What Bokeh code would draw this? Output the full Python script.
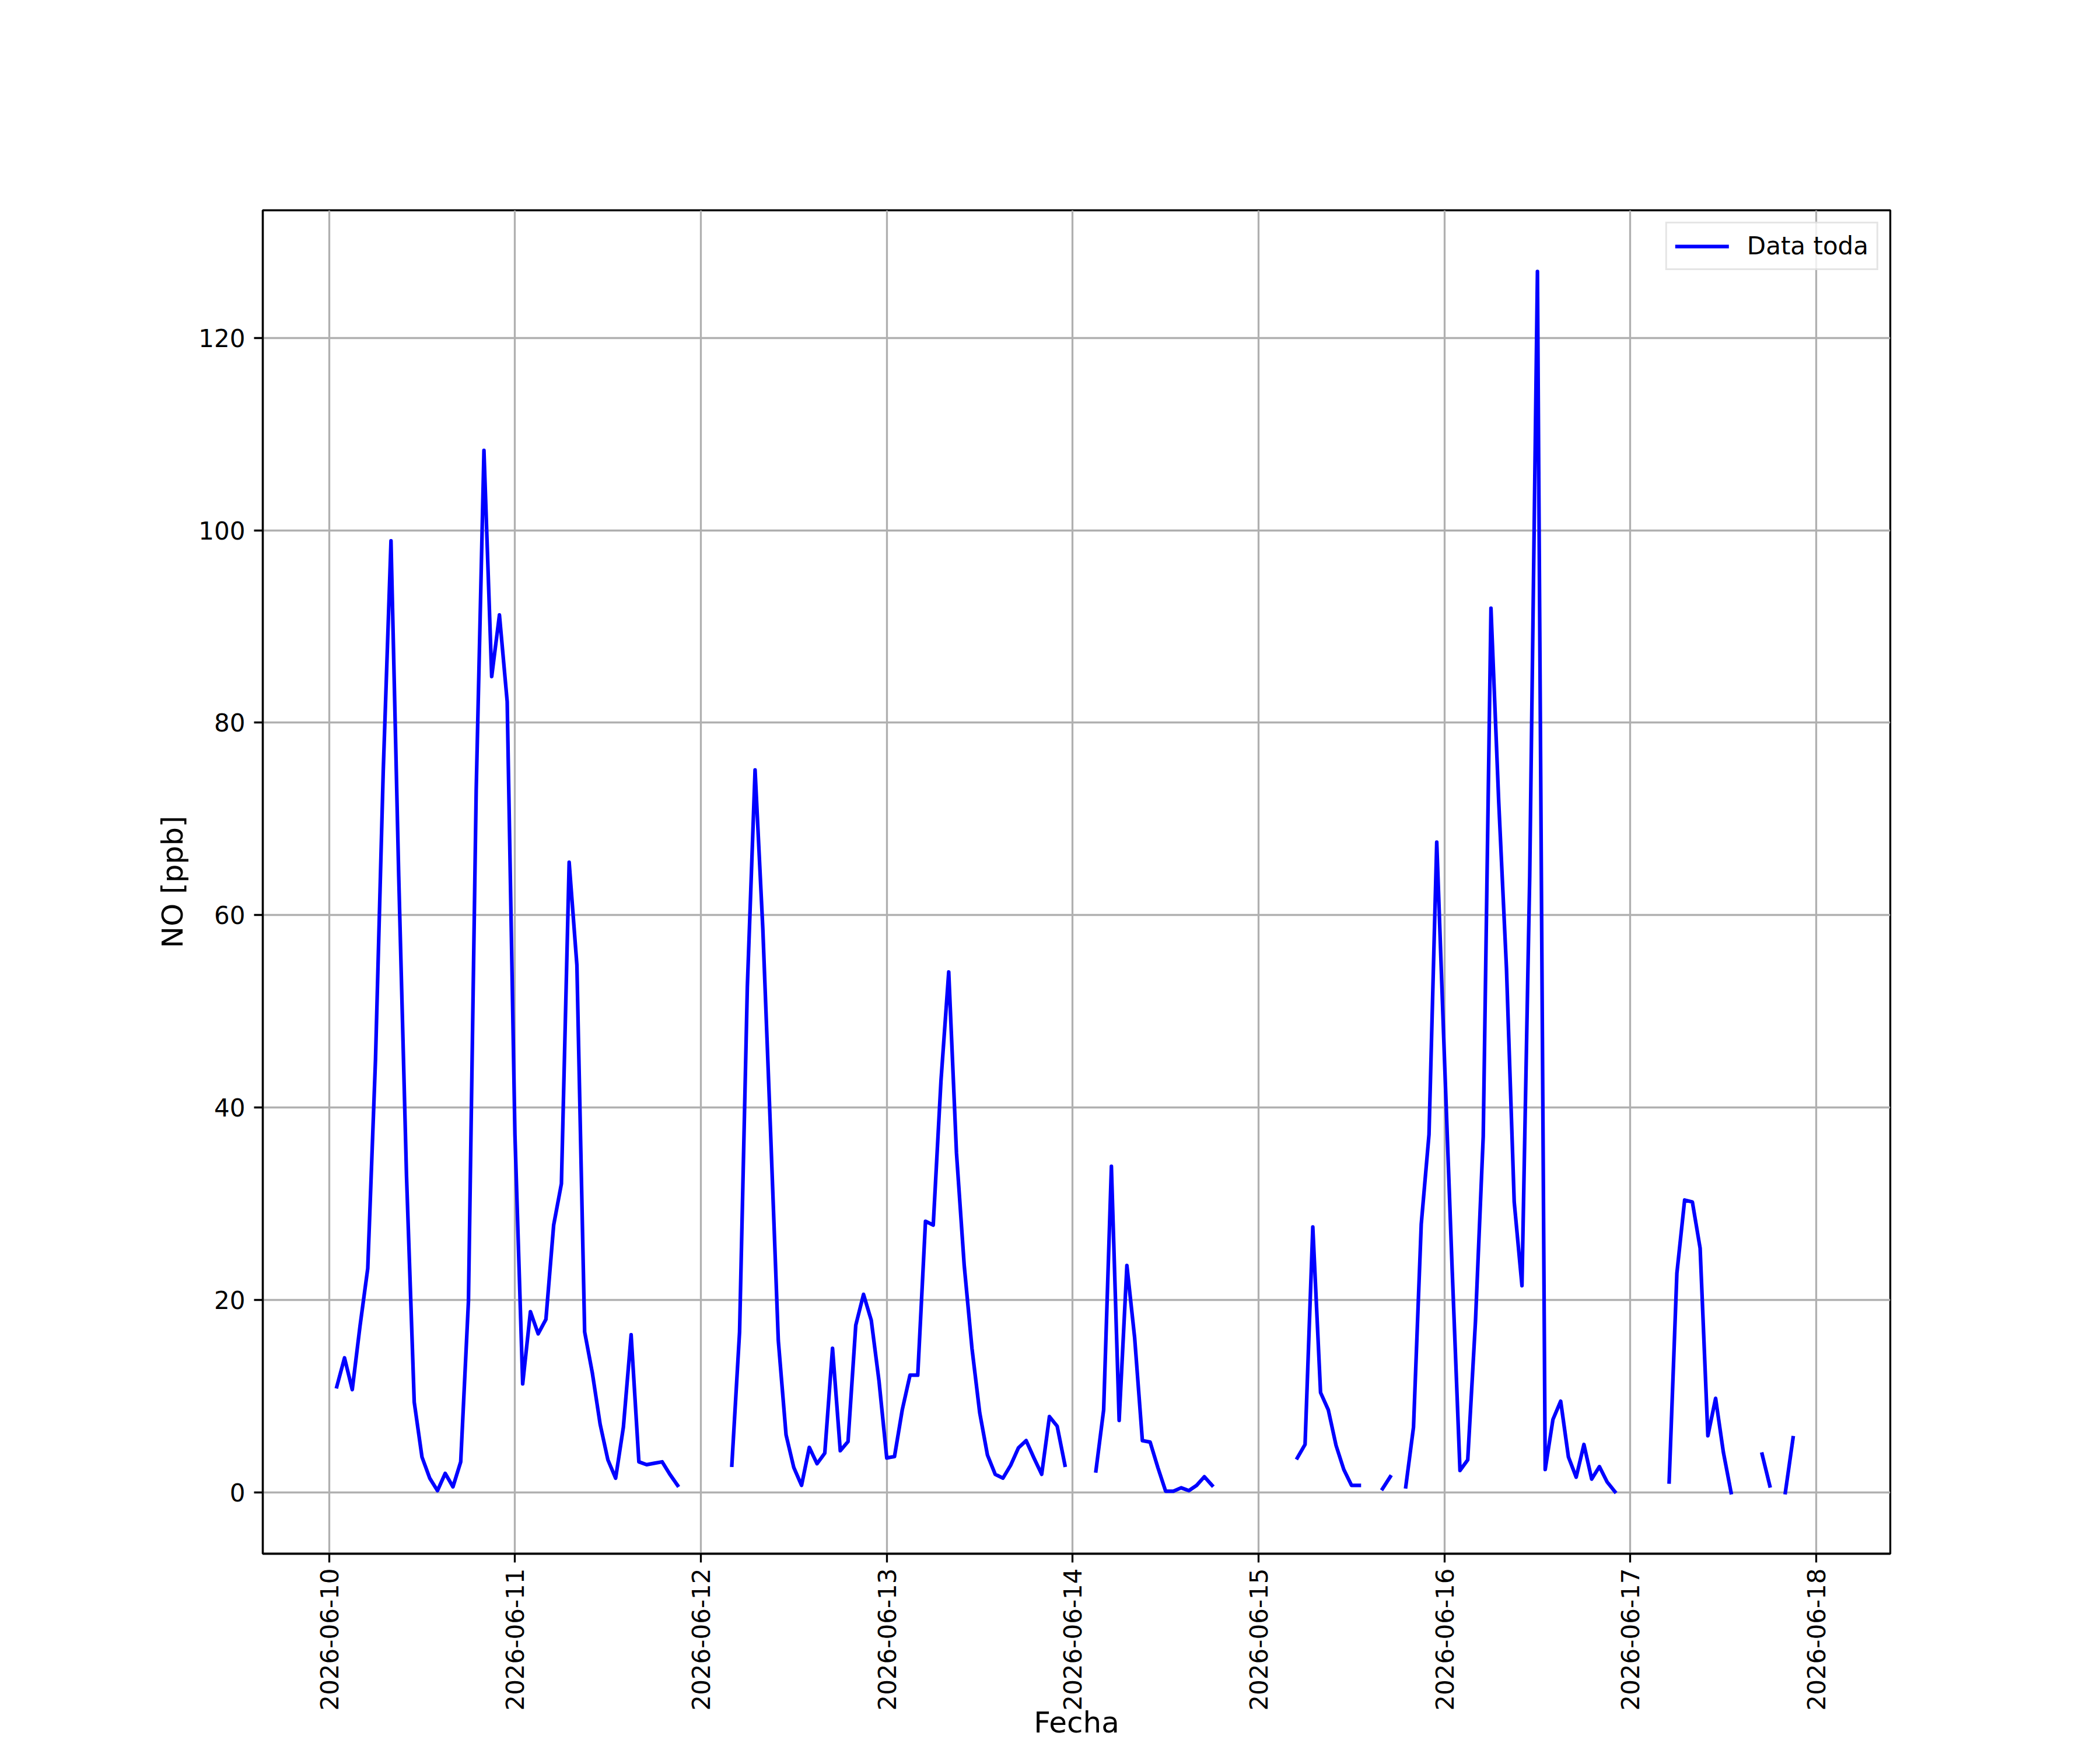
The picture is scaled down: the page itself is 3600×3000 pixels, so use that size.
import math
import numpy as np
import pandas as pd
from bokeh.plotting import figure
from bokeh.models import (Range1d, FixedTicker, DatetimeTickFormatter, Legend,
                          LegendItem, ColumnDataSource)
from bokeh.embed import file_html
from bokeh.resources import INLINE

nan = float("nan")

# hourly NO readings, first reading at 2026-06-10 01:00 (nan = missing hour)
first_time = "2026-06-10 01:00"
no_ppb = [
    11.0, 14.0, 10.7, 17.3, 23.3, 45.0, 75.0, 98.9, 64.0, 33.0,
    9.4, 3.7, 1.5, 0.2, 2.0, 0.6, 3.2, 19.9, 73.0, 108.3,
    84.8, 91.2, 82.2, 37.2, 11.3, 18.8, 16.5, 18.0, 27.8, 32.1,
    65.5, 54.8, 16.7, 12.4, 7.1, 3.4, 1.5, 6.8, 16.4, 3.2,
    2.9, 3.05, 3.2, 1.9, 0.75, nan, nan, nan, nan, nan,
    nan, 2.85, 16.7, 52.5, 75.1, 58.6, 37.5, 15.8, 6.0, 2.6,
    0.75, 4.7, 3.0, 4.1, 15.0, 4.35, 5.3, 17.4, 20.6, 17.9,
    11.6, 3.6, 3.75, 8.6, 12.2, 12.2, 28.2, 27.8, 42.8, 54.1,
    35.3, 23.6, 15.0, 8.3, 3.9, 1.9, 1.5, 2.85, 4.65, 5.4,
    3.6, 1.9, 7.9, 6.9, 2.85, nan, nan, nan, 2.25, 8.6,
    33.9, 7.5, 23.6, 16.1, 5.4, 5.25, 2.6, 0.15, 0.15, 0.5,
    0.2, 0.75, 1.65, 0.75, nan, nan, nan, nan, nan, nan,
    nan, nan, nan, nan, 3.6, 5.0, 27.6, 10.4, 8.6, 4.9,
    2.4, 0.75, 0.75, nan, nan, 0.4, 1.65, nan, 0.6, 6.8,
    27.9, 37.2, 67.6, 45.0, 23.0, 2.3, 3.4, 17.8, 37.0, 91.9,
    71.8, 54.5, 30.2, 21.5, 64.0, 126.9, 2.4, 7.6, 9.5, 3.7,
    1.6, 5.0, 1.4, 2.7, 1.1, 0.1, nan, nan, nan, nan,
    nan, nan, 1.1, 22.8, 30.4, 30.2, 25.4, 5.9, 9.8, 4.2,
    0.0, nan, nan, nan, 4.0, 0.7, nan, 0.0, 5.7,
]

series_label = "Data toda"
x_label = "Fecha"
y_label = "NO [ppb]"

day_ticks = ["2026-06-10", "2026-06-11", "2026-06-12", "2026-06-13", "2026-06-14",
             "2026-06-15", "2026-06-16", "2026-06-17", "2026-06-18"]
y_ticks = [0, 20, 40, 60, 80, 100, 120]
x_start, x_end = "2026-06-09 15:27", "2026-06-18 09:33"
y_start, y_end = -6.35, 133.25

times = pd.date_range(first_time, periods=len(no_ppb), freq="h")
src = ColumnDataSource(dict(t=times, v=np.array(no_ppb, dtype=float)))

FONT = "DejaVu Sans"
LW = 3.3
W, H = 3584, 2984
LEFT, RIGHT, TOP, BOTTOM = 450, 344, 360, 314

p = figure(width=W, height=H, x_axis_type="datetime", title=None,
           output_backend="svg", toolbar_location=None,
           x_range=Range1d(pd.Timestamp(x_start), pd.Timestamp(x_end)),
           y_range=Range1d(y_start, y_end),
           min_border_left=LEFT, min_border_right=RIGHT,
           min_border_top=TOP, min_border_bottom=BOTTOM)
p.background_fill_color = "white"
p.border_fill_color = "white"
p.outline_line_color = "black"
p.outline_line_width = LW
p.outline_line_alpha = 1.0

r = p.line("t", "v", source=src, line_color="#0000ff", line_width=6.25,
           line_join="round", line_cap="square")

xt = FixedTicker(ticks=[pd.Timestamp(d).value / 1e6 for d in day_ticks])
yt = FixedTicker(ticks=y_ticks)
p.xaxis.ticker = xt
p.yaxis.ticker = yt
p.xgrid.ticker = xt
p.ygrid.ticker = yt
fmt = "%Y-%m-%d"
p.xaxis.formatter = DatetimeTickFormatter(
    microseconds=fmt, milliseconds=fmt, seconds=fmt, minsec=fmt, minutes=fmt,
    hourmin=fmt, hours=fmt, days=fmt, months=fmt, years=fmt)
p.xaxis.major_label_orientation = math.pi / 2

for g in (p.xgrid, p.ygrid):
    g.grid_line_color = "#b0b0b0"
    g.grid_line_width = LW

for ax in (p.xaxis, p.yaxis):
    ax.axis_line_color = "black"
    ax.axis_line_width = LW
    ax.major_tick_line_color = "black"
    ax.major_tick_line_width = LW
    ax.major_tick_out = 15
    ax.major_tick_in = 0
    ax.minor_tick_line_color = None
    ax.major_label_text_font = FONT
    ax.major_label_text_font_size = "42px"
    ax.major_label_text_color = "black"
    ax.axis_label_text_font = FONT
    ax.axis_label_text_font_size = "50px"
    ax.axis_label_text_font_style = "normal"
    ax.axis_label_text_color = "black"

p.xaxis.axis_label = x_label
p.yaxis.axis_label = y_label
p.xaxis.major_label_standoff = 10
p.xaxis.axis_label_standoff = -12
p.yaxis.major_label_standoff = 15
p.yaxis.axis_label_standoff = 12

legend = Legend(items=[LegendItem(label=series_label, renderers=[r])],
                location="top_right", margin=20, padding=14, spacing=0,
                label_text_font=FONT, label_text_font_size="42px",
                label_text_color="black",
                glyph_width=92, glyph_height=40, label_standoff=31,
                border_line_color="#cccccc", border_line_width=LW,
                background_fill_color="white", background_fill_alpha=0.8)
p.add_layout(legend)

open("out.html", "w").write(file_html(p, INLINE))
